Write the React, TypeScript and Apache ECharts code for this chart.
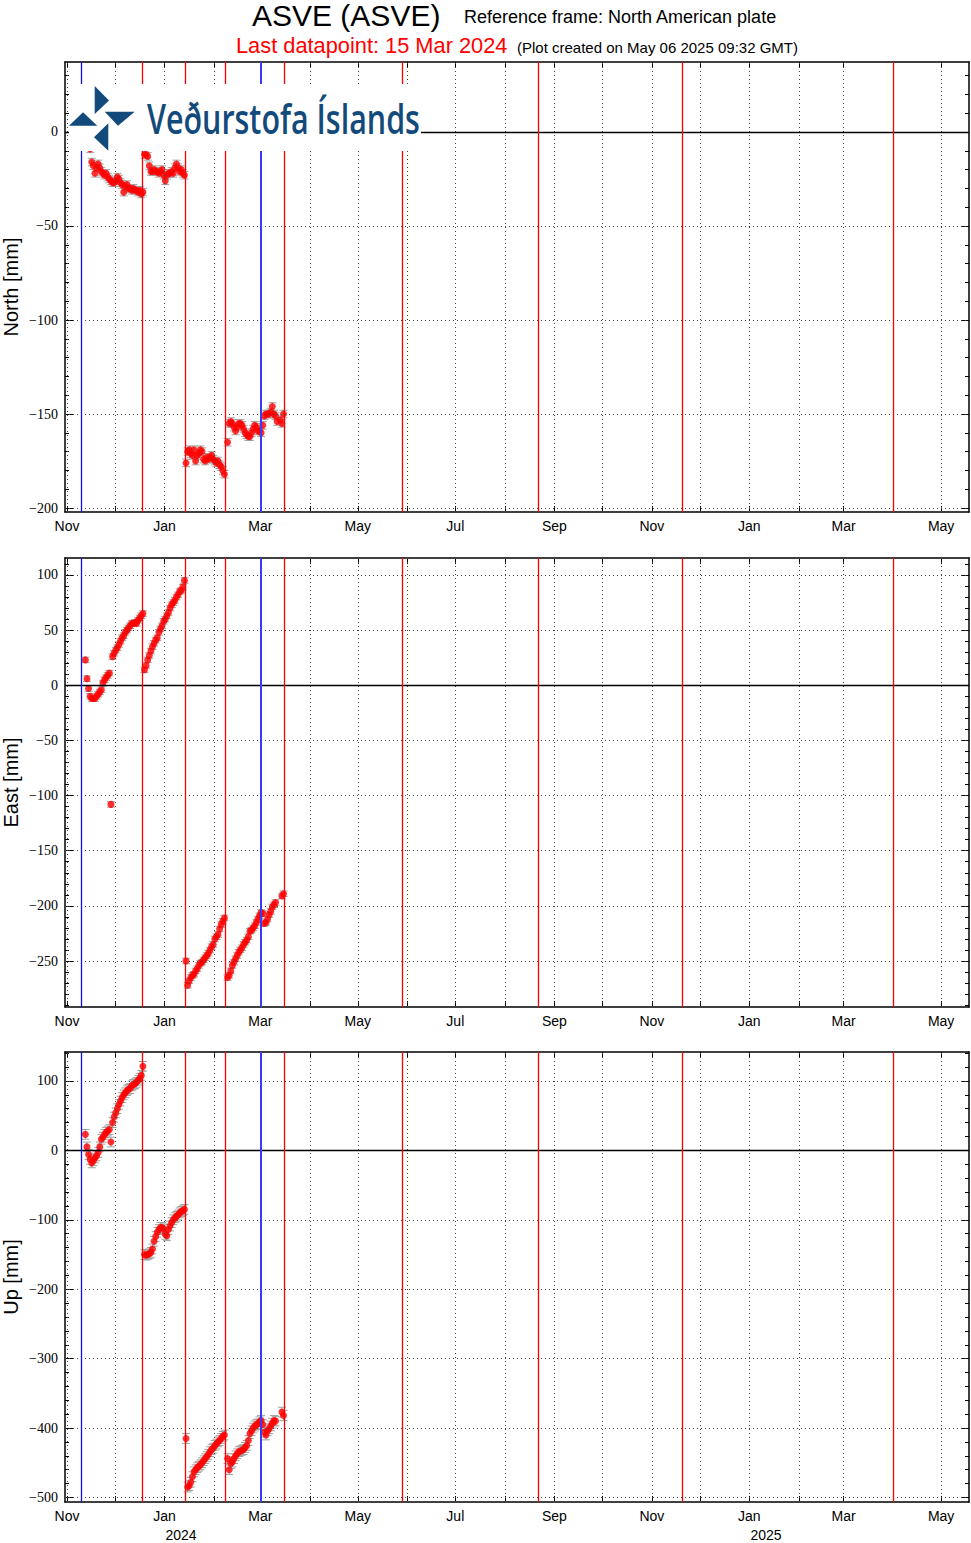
import React, { useEffect, useRef } from "react";
import * as echarts from "echarts";

// ---------- data (daily solutions, first day = 2023-11-12, values in mm) ----------
const firstDay = "2023-11-12";

const northNov = [-4, -6, -7, -9, -16, -18, -22, -19, -17, -19, -21, -22, -23, -22, -24, -25, -26, -27, -27];
const northDec = [-26, -24, -25, -27, -28, -32, -29, -28, -30, -30, -31, -30, -31, -31, -32, -31, -33, -32, -12, -12, -13, -18, -21, -21, -20, -21, -21, -22, -21, -20, -23];
const northJan = [-26, -23, -22, -22, -21, -22, -19, -17, -19, -21, -20, -22, -23, -176, -170, -169, -171, -172, -169, -175, -172, -171, -169, -170, -174, -175, -173, -174, -173, -172, -174];
const northFeb = [-175, -176, -175, -177, -178, -180, -182, null, -165, -155, -154, -155, -157, -159, -157, -155, -155, -156, -158, -160, -161, -162, -162, -160, -158, -156, -157, -159, -159];
const northMar = [-160, -156, -151, -150, -150, -150, -149, -146, -150, -151, -154, null, -153, -155, -150];

const eastNov = [23, 6, -3, -10, -12, -12, -12, -10, -8, -6, -4, 2, 5, 7, 9, 11, -108, 26, 29];
const eastDec = [32, 34, 37, 40, 43, 45, 48, 50, 52, 54, 56, 56, 57, 56, 59, 61, 63, 65, 14, 18, 23, 27, 31, 35, 38, 41, 43, 48, 51, 54, 58];
const eastJan = [60, 63, 66, 70, 73, 75, 77, 80, 82, 85, 86, 89, 95, -250, -272, -268, -265, -263, -262, -259, -257, -254, -252, -251, -249, -247, -245, -243, -240, -237, -235];
const eastFeb = [-230, -228, -226, -221, -217, -214, -211, null, -265, -263, -259, -254, -251, -248, -245, -242, -240, -238, -235, -233, -231, -228, -223, -222, -220, -218, -215, -212, -209];
const eastMar = [-206, -207, -216, -215, -212, -208, -205, -201, -199, -197, null, null, null, -191, -189];

const upNov = [23, 5, -6, -13, -18, -15, -11, -8, -3, 5, 16, 19, 23, 26, 28, 30, 12, 40, 48];
const upDec = [54, 60, 66, 71, 76, 80, 83, 86, 88, 89, 93, 95, 96, 98, 101, 104, 108, 121, -150, -151, -150, -149, -147, -142, -131, -124, -118, -114, -111, -111, -113];
const upJan = [-121, -123, -114, -109, -104, -100, -97, -95, -93, -90, -88, -87, -85, -415, -485, -483, -478, -470, -463, -460, -457, -455, -453, -450, -447, -444, -441, -438, -434, -431, -429];
const upFeb = [-425, -423, -420, -418, -415, -412, -410, null, -444, -460, -451, -449, -444, -440, -437, -434, -433, -432, -431, -428, -425, -418, -408, -404, -400, -397, -395, -394, -391];
const upMar = [-389, -395, -406, -410, -404, -401, -397, -393, -389, -390, null, null, null, -377, -382];

const north = [...northNov, ...northDec, ...northJan, ...northFeb, ...northMar];
const east = [...eastNov, ...eastDec, ...eastJan, ...eastFeb, ...eastMar];
const up = [...upNov, ...upDec, ...upJan, ...upFeb, ...upMar];

// one-sigma uncertainties (mm)
const northErr = 2;
const eastErr = 2.5;
const upErr = 7;

// y tick labels
const northTicks = [-200, -150, -100, -50, 0];
const eastTicks = [-250, -200, -150, -100, -50, 0, 50, 100];
const upTicks = [-500, -400, -300, -200, -100, 0, 100];

// event markers
const intrusionDates = ["2023-11-10T00:00:00Z", "2024-03-01T12:00:00Z"];
const eruptionDates = [
  "2023-12-18T00:00:00Z",
  "2024-01-14T00:00:00Z",
  "2024-02-08T00:00:00Z",
  "2024-03-16T00:00:00Z",
  "2024-05-29T00:00:00Z",
  "2024-08-22T00:00:00Z",
  "2024-11-20T00:00:00Z",
  "2025-04-01T00:00:00Z",
];

const monthNames = ["Jan", "Feb", "Mar", "Apr", "May", "Jun", "Jul", "Aug", "Sep", "Oct", "Nov", "Dec"];
const yearLabels = ["2024", "2025"];

const titleMain = "ASVE (ASVE)";
const titleFrame = "Reference frame: North American plate";
const titleLast = "Last datapoint: 15 Mar 2024";
const titleCreated = "(Plot created on May 06 2025 09:32 GMT)";
const logoText = "Veðurstofa Íslands";

// ---------- helpers ----------
const DAY = 86400000;
const t0 = Date.parse(firstDay + "T12:00:00Z");
const X_MIN = Date.UTC(2023, 9, 30, 18);
const X_MAX = Date.UTC(2025, 4, 18, 11);

const monthStarts: number[] = [];
for (let k = 0; k < 19; k++) monthStarts.push(Date.UTC(2023, 10 + k, 1));
const labelMonths = monthStarts.filter((_, i) => i % 2 === 0);

function toPoints(vals: (number | null)[], err: number) {
  const out: number[][] = [];
  vals.forEach((v, i) => {
    if (v !== null && v !== undefined) out.push([t0 + i * DAY, v, err]);
  });
  return out;
}

function minorTicks(min: number, max: number, step: number) {
  const out: number[] = [];
  for (let v = Math.ceil(min / step) * step; v <= max; v += step) out.push(v);
  return out;
}

const fmtY = (v: number) => (v < 0 ? "\u2212" + Math.abs(v) : String(v));
const fmtMonth = (v: number) => monthNames[new Date(Number(v)).getUTCMonth()];

function textWidth(text: string, font: string) {
  const ctx = document.createElement("canvas").getContext("2d");
  if (!ctx) return 0;
  ctx.font = font;
  return ctx.measureText(text).width;
}

const GRIDS = [
  { top: 62, height: 450 },
  { top: 558, height: 449 },
  { top: 1052, height: 450 },
];

const PANELS = [
  { name: "North [mm]", vals: north, err: northErr, min: -202.1, max: 37.2, ticks: northTicks, step: 10 },
  { name: "East [mm]", vals: east, err: eastErr, min: -291.7, max: 115.4, ticks: eastTicks, step: 10 },
  { name: "Up [mm]", vals: up, err: upErr, min: -506.5, max: 141.7, ticks: upTicks, step: 20 },
];

const SANS = '"Liberation Sans", Arial, sans-serif';
const SERIF = '"Liberation Serif", "Times New Roman", serif';
const LOGO_BLUE = "#134a7c";

function buildOption() {
  const grid: any[] = [];
  const xAxis: any[] = [];
  const yAxis: any[] = [];
  const series: any[] = [];
  const axisLineStyle = { color: "#000", width: 1.5 };

  PANELS.forEach((p, g) => {
    grid.push({
      left: 65,
      right: 2,
      top: GRIDS[g].top,
      height: GRIDS[g].height,
      show: false,
      containLabel: false,
      outerBoundsMode: "none",
    });
    const minors = minorTicks(p.min, p.max, p.step);

    // bottom x axis (labels)
    xAxis.push({
      type: "value",
      gridIndex: g,
      min: X_MIN,
      max: X_MAX,
      position: "bottom",
      axisLine: { show: true, onZero: false, lineStyle: axisLineStyle },
      axisTick: { show: true, inside: true, length: 6, customValues: monthStarts, lineStyle: { color: "#000" } },
      axisLabel: {
        show: true,
        customValues: labelMonths,
        formatter: fmtMonth,
        color: "#000",
        fontSize: 14,
        fontFamily: SANS,
        margin: 7,
      },
      splitLine: { show: false },
    });
    // top x axis (frame + ticks)
    xAxis.push({
      type: "value",
      gridIndex: g,
      min: X_MIN,
      max: X_MAX,
      position: "top",
      axisLine: { show: true, onZero: false, lineStyle: axisLineStyle },
      axisTick: { show: true, inside: true, length: 6, customValues: monthStarts, lineStyle: { color: "#000" } },
      axisLabel: { show: false },
      splitLine: { show: false },
    });

    // left main
    yAxis.push({
      type: "value",
      gridIndex: g,
      min: p.min,
      max: p.max,
      position: "left",
      name: p.name,
      nameLocation: "middle",
      nameRotate: 90,
      nameGap: 44,
      nameMoveOverlap: false,
      nameTextStyle: { fontFamily: SANS, fontSize: 20, color: "#000" },
      axisLine: { show: true, onZero: false, lineStyle: axisLineStyle },
      axisTick: { show: true, inside: true, length: 8, customValues: p.ticks, lineStyle: { color: "#000" } },
      axisLabel: { show: true, customValues: p.ticks, formatter: fmtY, fontFamily: SERIF, fontSize: 14, color: "#000", margin: 7 },
      splitLine: { show: false },
    });
    // left minor
    yAxis.push({
      type: "value",
      gridIndex: g,
      min: p.min,
      max: p.max,
      position: "left",
      axisLine: { show: false },
      axisTick: { show: true, inside: true, length: 4, customValues: minors, lineStyle: { color: "#000" } },
      axisLabel: { show: false },
      splitLine: { show: false },
    });
    // right main
    yAxis.push({
      type: "value",
      gridIndex: g,
      min: p.min,
      max: p.max,
      position: "right",
      axisLine: { show: true, onZero: false, lineStyle: axisLineStyle },
      axisTick: { show: true, inside: true, length: 8, customValues: p.ticks, lineStyle: { color: "#000" } },
      axisLabel: { show: false },
      splitLine: { show: false },
    });
    // right minor
    yAxis.push({
      type: "value",
      gridIndex: g,
      min: p.min,
      max: p.max,
      position: "right",
      axisLine: { show: false },
      axisTick: { show: true, inside: true, length: 4, customValues: minors, lineStyle: { color: "#000" } },
      axisLabel: { show: false },
      splitLine: { show: false },
    });

    const xi = 2 * g;
    const yi = 4 * g;
    const pts = toPoints(p.vals, p.err);

    // dotted grid
    series.push({
      type: "line",
      xAxisIndex: xi,
      yAxisIndex: yi,
      data: [],
      silent: true,
      z: 1,
      markLine: {
        silent: true,
        symbol: ["none", "none"],
        label: { show: false },
        animation: false,
        lineStyle: { color: "#444", type: [1, 3], width: 1 },
        data: [...monthStarts.map((t) => ({ xAxis: t })), ...p.ticks.map((v) => ({ yAxis: v }))],
      },
    });
    // zero line + event lines
    series.push({
      type: "line",
      xAxisIndex: xi,
      yAxisIndex: yi,
      data: [],
      silent: true,
      z: 2,
      markLine: {
        silent: true,
        symbol: ["none", "none"],
        label: { show: false },
        animation: false,
        data: [
          { yAxis: 0, lineStyle: { color: "#000", type: "solid", width: 1.3 } },
          ...eruptionDates.map((d) => ({ xAxis: Date.parse(d), lineStyle: { color: "#ff0000", type: "solid", width: 1.3 } })),
          ...intrusionDates.map((d, i) => ({
            xAxis: Date.parse(d),
            lineStyle: { color: i === 0 ? "#1010e0" : "#3a3aff", type: "solid", width: i === 0 ? 1.3 : 2 },
          })),
        ],
      },
    });
    // error bars
    series.push({
      type: "custom",
      xAxisIndex: xi,
      yAxisIndex: yi,
      data: pts,
      z: 3,
      silent: true,
      encode: { x: 0, y: 1 },
      renderItem: (params: any, api: any) => {
        const x = api.value(0);
        const y = api.value(1);
        const e = api.value(2);
        const a = api.coord([x, y + e]);
        const b = api.coord([x, y - e]);
        const hw = 4;
        const st = { stroke: "#a0a0a0", lineWidth: 1 };
        return {
          type: "group",
          children: [
            { type: "line", shape: { x1: a[0], y1: a[1], x2: b[0], y2: b[1] }, style: st },
            { type: "line", shape: { x1: a[0] - hw, y1: a[1], x2: a[0] + hw, y2: a[1] }, style: st },
            { type: "line", shape: { x1: b[0] - hw, y1: b[1], x2: b[0] + hw, y2: b[1] }, style: st },
          ],
        };
      },
    });
    // points
    series.push({
      type: "scatter",
      xAxisIndex: xi,
      yAxisIndex: yi,
      data: pts.map((d) => [d[0], d[1]]),
      symbol: "circle",
      symbolSize: 7,
      itemStyle: { color: "#ff0000" },
      z: 4,
      silent: true,
    });
  });

  const logoFont = '600 42px "Open Sans"';
  const lw = textWidth(logoText, logoFont);
  const logoScale = lw > 0 ? 273 / lw : 0.62;

  const graphic: any[] = [
    { type: "text", x: 252, y: 15.5, z: 100, style: { text: titleMain, font: "30px " + SANS, fill: "#000", textAlign: "left", textVerticalAlign: "middle" } },
    { type: "text", x: 464, y: 17, z: 100, style: { text: titleFrame, font: "18px " + SANS, fill: "#000", textAlign: "left", textVerticalAlign: "middle" } },
    { type: "text", x: 236, y: 45, z: 100, style: { text: titleLast, font: "21.8px " + SANS, fill: "#ff0000", textAlign: "left", textVerticalAlign: "middle" } },
    { type: "text", x: 517, y: 47, z: 100, style: { text: titleCreated, font: "15px " + SANS, fill: "#000", textAlign: "left", textVerticalAlign: "middle" } },
    { type: "text", x: 181, y: 1535, z: 100, style: { text: yearLabels[0], font: "14px " + SANS, fill: "#000", textAlign: "center", textVerticalAlign: "middle" } },
    { type: "text", x: 766, y: 1535, z: 100, style: { text: yearLabels[1], font: "14px " + SANS, fill: "#000", textAlign: "center", textVerticalAlign: "middle" } },
    // logo
    { type: "rect", z: 90, shape: { x: 69, y: 84, width: 352, height: 67 }, style: { fill: "#fff" } },
    { type: "polygon", z: 100, shape: { points: [[94.7, 86], [109, 100.5], [94.7, 114]] }, style: { fill: LOGO_BLUE } },
    { type: "polygon", z: 100, shape: { points: [[104.7, 111.7], [134.7, 111.7], [118, 125.7]] }, style: { fill: LOGO_BLUE } },
    { type: "polygon", z: 100, shape: { points: [[108.3, 123.3], [108.3, 150.7], [94, 137.3]] }, style: { fill: LOGO_BLUE } },
    { type: "polygon", z: 100, shape: { points: [[69, 125.7], [97.3, 125.7], [83, 112.3]] }, style: { fill: LOGO_BLUE } },
    {
      type: "text",
      x: 147,
      y: 118,
      z: 100,
      scaleX: logoScale,
      style: { text: logoText, font: logoFont, fill: LOGO_BLUE, textAlign: "left", textVerticalAlign: "middle" },
    },
  ];

  return {
    animation: false,
    backgroundColor: "#fff",
    grid,
    xAxis,
    yAxis,
    series,
    graphic,
  };
}

export default function App() {
  const ref = useRef<HTMLDivElement>(null);
  useEffect(() => {
    if (!ref.current) return;
    const chart = echarts.init(ref.current, null, { renderer: "svg" });
    chart.setOption(buildOption() as any);
    return () => chart.dispose();
  }, []);
  return (
    <div
      ref={ref}
      style={{ position: "absolute", left: 0, top: 0, width: 971, height: 1543, background: "#fff" }}
    />
  );
}
